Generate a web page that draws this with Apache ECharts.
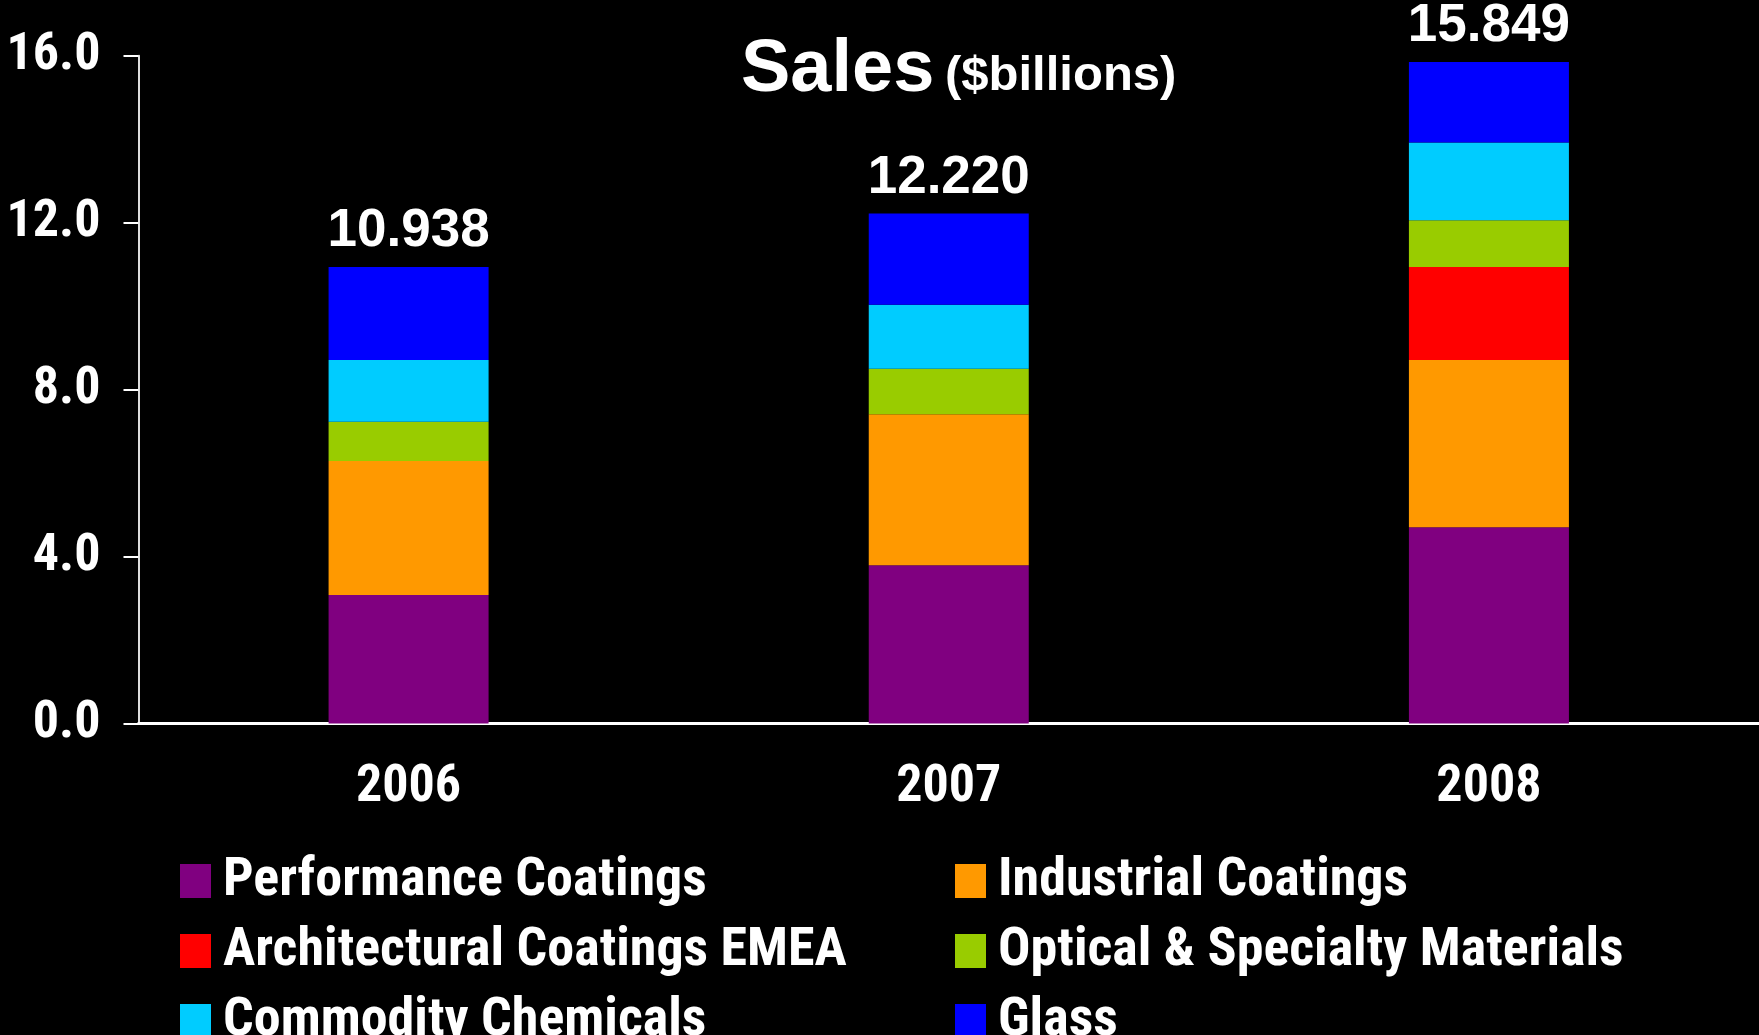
<!DOCTYPE html>
<html>
<head>
<meta charset="utf-8">
<title>Sales ($billions)</title>
<script src="https://cdn.jsdelivr.net/npm/echarts@6/dist/echarts.min.js"></script>
<style>
  html, body { margin: 0; padding: 0; background: #000; }
  #chart { width: 1759px; height: 1035px; }
</style>
</head>
<body>
<div id="chart"></div>
<script>
// Sales by segment, $ billions
const years = ['2006', '2007', '2008'];
const performanceCoatings = [3.08, 3.79, 4.70];
const industrialCoatings = [3.21, 3.62, 4.01];
const architecturalEMEA = [0, 0, 2.23];
const opticalSpecialty = [0.94, 1.09, 1.12];
const commodityChemicals = [1.48, 1.53, 1.86];
const glass = [2.228, 2.19, 1.929];
const totals = [10.938, 12.220, 15.849];
const yTicks = [0, 4, 8, 12, 16];

const narrow = "'Roboto Condensed', 'Liberation Sans Narrow', 'Arial Narrow', sans-serif";
const wide = "'Liberation Sans', Arial, sans-serif";

const segments = [
  { name: 'Performance Coatings', data: performanceCoatings, color: '#800080' },
  { name: 'Industrial Coatings', data: industrialCoatings, color: '#FF9900' },
  { name: 'Architectural Coatings EMEA', data: architecturalEMEA, color: '#FF0000' },
  { name: 'Optical & Specialty Materials', data: opticalSpecialty, color: '#99CC00' },
  { name: 'Commodity Chemicals', data: commodityChemicals, color: '#00CCFF' },
  { name: 'Glass', data: glass, color: '#0000FF' }
];

const series = segments.map((s, i) => {
  const item = {
    name: s.name,
    type: 'bar',
    stack: 'sales',
    barWidth: 160,
    data: s.data,
    itemStyle: { color: s.color },
    emphasis: { disabled: true }
  };
  if (i === segments.length - 1) {
    item.label = {
      show: true,
      position: 'top',
      distance: 9,
      color: '#fff',
      fontFamily: wide,
      fontWeight: 'bold',
      fontSize: 53,
      formatter: p => totals[p.dataIndex].toFixed(3)
    };
  }
  return item;
});

// legend laid out in two columns of three rows
const legendSlots = [
  { name: 'Performance Coatings', left: 180, top: 854 },
  { name: 'Industrial Coatings', left: 955, top: 854 },
  { name: 'Architectural Coatings EMEA', left: 180, top: 924 },
  { name: 'Optical & Specialty Materials', left: 955, top: 924 },
  { name: 'Commodity Chemicals', left: 180, top: 994 },
  { name: 'Glass', left: 955, top: 994 }
];
const legends = legendSlots.map(slot => ({
  left: slot.left,
  top: slot.top,
  padding: 0,
  data: [slot.name],
  itemWidth: 31,
  itemHeight: 34,
  icon: 'rect',
  selectedMode: false,
  textStyle: {
    color: '#fff',
    fontFamily: narrow,
    fontWeight: 'bold',
    fontSize: 54,
    lineHeight: 34,
    padding: [0, 0, 8, 7]
  }
}));

const chart = echarts.init(document.getElementById('chart'), null, { renderer: 'canvas' });
chart.setOption({
  backgroundColor: '#000',
  animation: false,
  grid: { left: 138.5, right: 0, top: 55.7, bottom: 311.5, outerBoundsMode: 'none', containLabel: false },
  graphic: [
    {
      type: 'text', left: 741, top: 34,
      style: { text: 'Sales', fill: '#fff', font: 'bold 74px ' + wide }
    },
    {
      type: 'text', left: 945, top: 52,
      style: { text: '($billions)', fill: '#fff', font: 'bold 49px ' + wide }
    }
  ],
  legend: legends,
  xAxis: {
    type: 'category',
    data: years,
    axisLine: { lineStyle: { color: '#fff', width: 3 } },
    axisTick: { show: false },
    axisLabel: {
      color: '#fff', fontFamily: narrow, fontWeight: 'bold', fontSize: 52, margin: 38
    }
  },
  yAxis: {
    type: 'value',
    min: yTicks[0],
    max: yTicks[yTicks.length - 1],
    interval: yTicks[1] - yTicks[0],
    splitLine: { show: false },
    axisLine: { show: true, lineStyle: { color: '#ddd', width: 2 } },
    axisTick: { show: true, length: 15, lineStyle: { color: '#fff', width: 2 } },
    axisLabel: {
      color: '#fff', fontFamily: narrow, fontWeight: 'bold', fontSize: 52, margin: 38,
      formatter: v => v.toFixed(1)
    }
  },
  series: series
});
</script>
</body>
</html>
